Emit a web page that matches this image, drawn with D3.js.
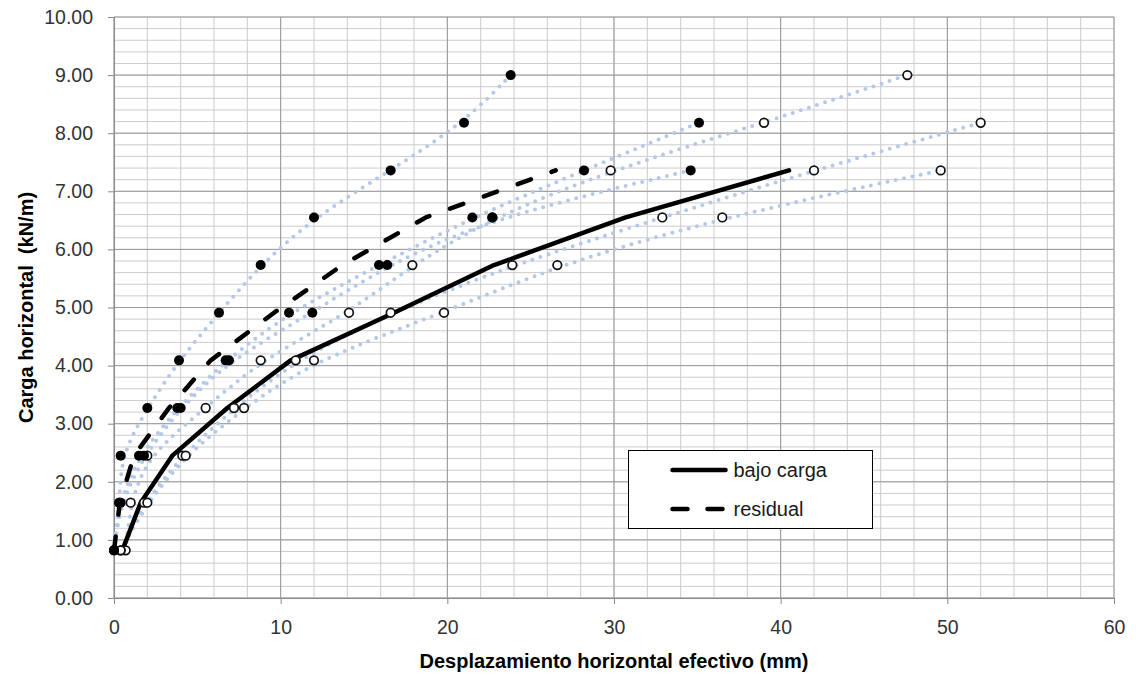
<!DOCTYPE html>
<html>
<head>
<meta charset="utf-8">
<script src="https://cdn.jsdelivr.net/npm/d3@7"></script>
<style>
  body { margin: 0; background: #fff; }
  svg { font-family: 'Liberation Sans', Arial, sans-serif; }
  .axis text { fill: #333; }
  .axis path, .axis line { stroke: #8a8a8a; }
</style>
</head>
<body>
<div id="chart"></div>
<script>
// Load levels (kN/m)
var loads = [0.82, 1.64, 2.45, 3.27, 4.09, 4.91, 5.73, 6.55, 7.36, 8.18, 9.00];

// Displacement under load (mm), one array per test
var underLoad1 = [0.7, 1.0, 2.0, 5.5, 8.8, 14.1, 17.9, 22.7, 29.8, 39.0, 47.6];
var underLoad2 = [0.4, 1.8, 4.1, 7.2, 10.9, 16.6, 23.9, 32.9, 42.0, 52.0];
var underLoad3 = [0.4, 2.0, 4.3, 7.8, 12.0, 19.8, 26.6, 36.5, 49.6];

// Residual displacement (mm), one array per test
var residual1 = [0.0, 0.35, 0.4, 2.0, 3.9, 6.3, 8.8, 12.0, 16.6, 21.0, 23.8];
var residual2 = [0.0, 0.3, 1.5, 3.8, 6.7, 10.5, 15.9, 21.5, 28.2, 35.1];
var residual3 = [0.0, 0.4, 1.8, 4.0, 6.9, 11.9, 16.4, 22.7, 34.6];

// Mean curves as drawn on the chart
var meanUnderLoad = [0.5, 1.6, 3.5, 6.8, 10.6, 16.8, 22.8, 30.7, 40.5];
var meanResidual = [0.0, 0.35, 1.2, 3.3, 5.8, 9.6, 13.7, 18.7, 26.5];

var legendLabels = ['bajo carga', 'residual'];

var xTicks = [0, 10, 20, 30, 40, 50, 60];
var yTicks = [0, 1, 2, 3, 4, 5, 6, 7, 8, 9, 10];

var margin = {top: 17, right: 22, bottom: 77, left: 114};
var width = 1136 - margin.left - margin.right;
var height = 675 - margin.top - margin.bottom;

var x = d3.scaleLinear().domain([0, 60]).range([0, width]);
var y = d3.scaleLinear().domain([0, 10]).range([height, 0]);

// pair a displacement array with the load levels
function pairs(values) {
  return values.map(function(v, i) { return {x: v, y: loads[i]}; });
}

var svg = d3.select('#chart').append('svg')
    .attr('width', 1136)
    .attr('height', 675)
  .append('g')
    .attr('transform', 'translate(' + margin.left + ',' + margin.top + ')');

// Minor gridlines
svg.append('g')
  .selectAll('line')
  .data(d3.range(0, 60.01, 2))
  .enter().append('line')
    .attr('x1', function(d) { return x(d); })
    .attr('x2', function(d) { return x(d); })
    .attr('y1', 0).attr('y2', height)
    .attr('stroke', '#cccccc');
svg.append('g')
  .selectAll('line')
  .data(d3.range(0, 10.01, 0.2))
  .enter().append('line')
    .attr('y1', function(d) { return y(d); })
    .attr('y2', function(d) { return y(d); })
    .attr('x1', 0).attr('x2', width)
    .attr('stroke', '#cccccc');

// Major gridlines
svg.append('g')
  .selectAll('line')
  .data(xTicks)
  .enter().append('line')
    .attr('x1', function(d) { return x(d); })
    .attr('x2', function(d) { return x(d); })
    .attr('y1', 0).attr('y2', height)
    .attr('stroke', '#999999');
svg.append('g')
  .selectAll('line')
  .data(yTicks)
  .enter().append('line')
    .attr('y1', function(d) { return y(d); })
    .attr('y2', function(d) { return y(d); })
    .attr('x1', 0).attr('x2', width)
    .attr('stroke', '#999999');

// Axes
var xAxis = d3.axisBottom(x).tickValues(xTicks).tickSize(6).tickPadding(16);
var yAxis = d3.axisLeft(y).tickValues(yTicks).tickSize(6).tickPadding(15)
  .tickFormat(d3.format('.2f'));

svg.append('g')
  .attr('class', 'x axis')
  .attr('transform', 'translate(0,' + height + ')')
  .call(xAxis)
  .call(function(g) { g.selectAll('text').style('font-size', '19.5px'); });

svg.append('g')
  .attr('class', 'y axis')
  .call(yAxis)
  .call(function(g) { g.selectAll('text').style('font-size', '19.5px'); });

// Dotted trend curves for every test
var trend = d3.line()
  .x(function(d) { return x(d.x); })
  .y(function(d) { return y(d.y); })
  .curve(d3.curveBasis);

var tests = [underLoad1, underLoad2, underLoad3, residual1, residual2, residual3];
svg.append('g')
  .selectAll('path')
  .data(tests)
  .enter().append('path')
    .attr('d', function(d) { return trend(pairs(d)); })
    .attr('fill', 'none')
    .attr('stroke', '#b4c8e8')
    .attr('stroke-width', 4)
    .attr('stroke-linecap', 'round')
    .attr('stroke-dasharray', '0,8.5');

// Mean curves
var meanLine = d3.line()
  .x(function(d) { return x(d.x); })
  .y(function(d) { return y(d.y); });

svg.append('path')
  .attr('d', meanLine(pairs(meanUnderLoad)))
  .attr('fill', 'none')
  .attr('stroke', '#000')
  .attr('stroke-width', 4.5)
  .attr('stroke-linejoin', 'round')
  .attr('stroke-linecap', 'round');

svg.append('path')
  .attr('d', meanLine(pairs(meanResidual)))
  .attr('fill', 'none')
  .attr('stroke', '#000')
  .attr('stroke-width', 4.5)
  .attr('stroke-linecap', 'round')
  .attr('stroke-dasharray', '14,22');

// Open markers: displacement under load
[underLoad1, underLoad2, underLoad3].forEach(function(s) {
  svg.append('g')
    .selectAll('circle')
    .data(pairs(s))
    .enter().append('circle')
      .attr('r', 4.3)
      .attr('cx', function(d) { return x(d.x); })
      .attr('cy', function(d) { return y(d.y); })
      .attr('fill', '#fff')
      .attr('stroke', '#111')
      .attr('stroke-width', 1.7);
});

// Filled markers: residual displacement
[residual1, residual2, residual3].forEach(function(s) {
  svg.append('g')
    .selectAll('circle')
    .data(pairs(s))
    .enter().append('circle')
      .attr('r', 5)
      .attr('cx', function(d) { return x(d.x); })
      .attr('cy', function(d) { return y(d.y); })
      .attr('fill', '#000');
});

// Axis titles
svg.append('text')
  .attr('x', width / 2)
  .attr('y', height + 70)
  .attr('text-anchor', 'middle')
  .style('font-size', '20px')
  .style('font-weight', 'bold')
  .text('Desplazamiento horizontal efectivo (mm)');

svg.append('text')
  .attr('transform', 'translate(' + (-81) + ',' + y(5) + ') rotate(-90)')
  .attr('text-anchor', 'middle')
  .style('font-size', '20px')
  .style('font-weight', 'bold')
  .style('white-space', 'pre')
  .text('Carga horizontal  (kN/m)');

// Legend
var legend = svg.append('g')
  .attr('transform', 'translate(' + (628.5 - margin.left) + ',' + (450.5 - margin.top) + ')');

legend.append('rect')
  .attr('width', 244)
  .attr('height', 78)
  .attr('fill', '#fff')
  .attr('stroke', '#000');

legend.selectAll('line')
  .data(legendLabels)
  .enter().append('line')
    .attr('x1', 44).attr('x2', 97)
    .attr('y1', function(d, i) { return 19.5 + i * 39; })
    .attr('y2', function(d, i) { return 19.5 + i * 39; })
    .attr('stroke', '#000')
    .attr('stroke-width', 4.5)
    .attr('stroke-linecap', 'round')
    .attr('stroke-dasharray', function(d, i) { return i ? '15,20' : null; });

legend.selectAll('text')
  .data(legendLabels)
  .enter().append('text')
    .attr('x', 105)
    .attr('y', function(d, i) { return 26.5 + i * 39; })
    .style('font-size', '20px')
    .attr('fill', '#1a1a1a')
    .text(function(d) { return d; });
</script>
</body>
</html>
